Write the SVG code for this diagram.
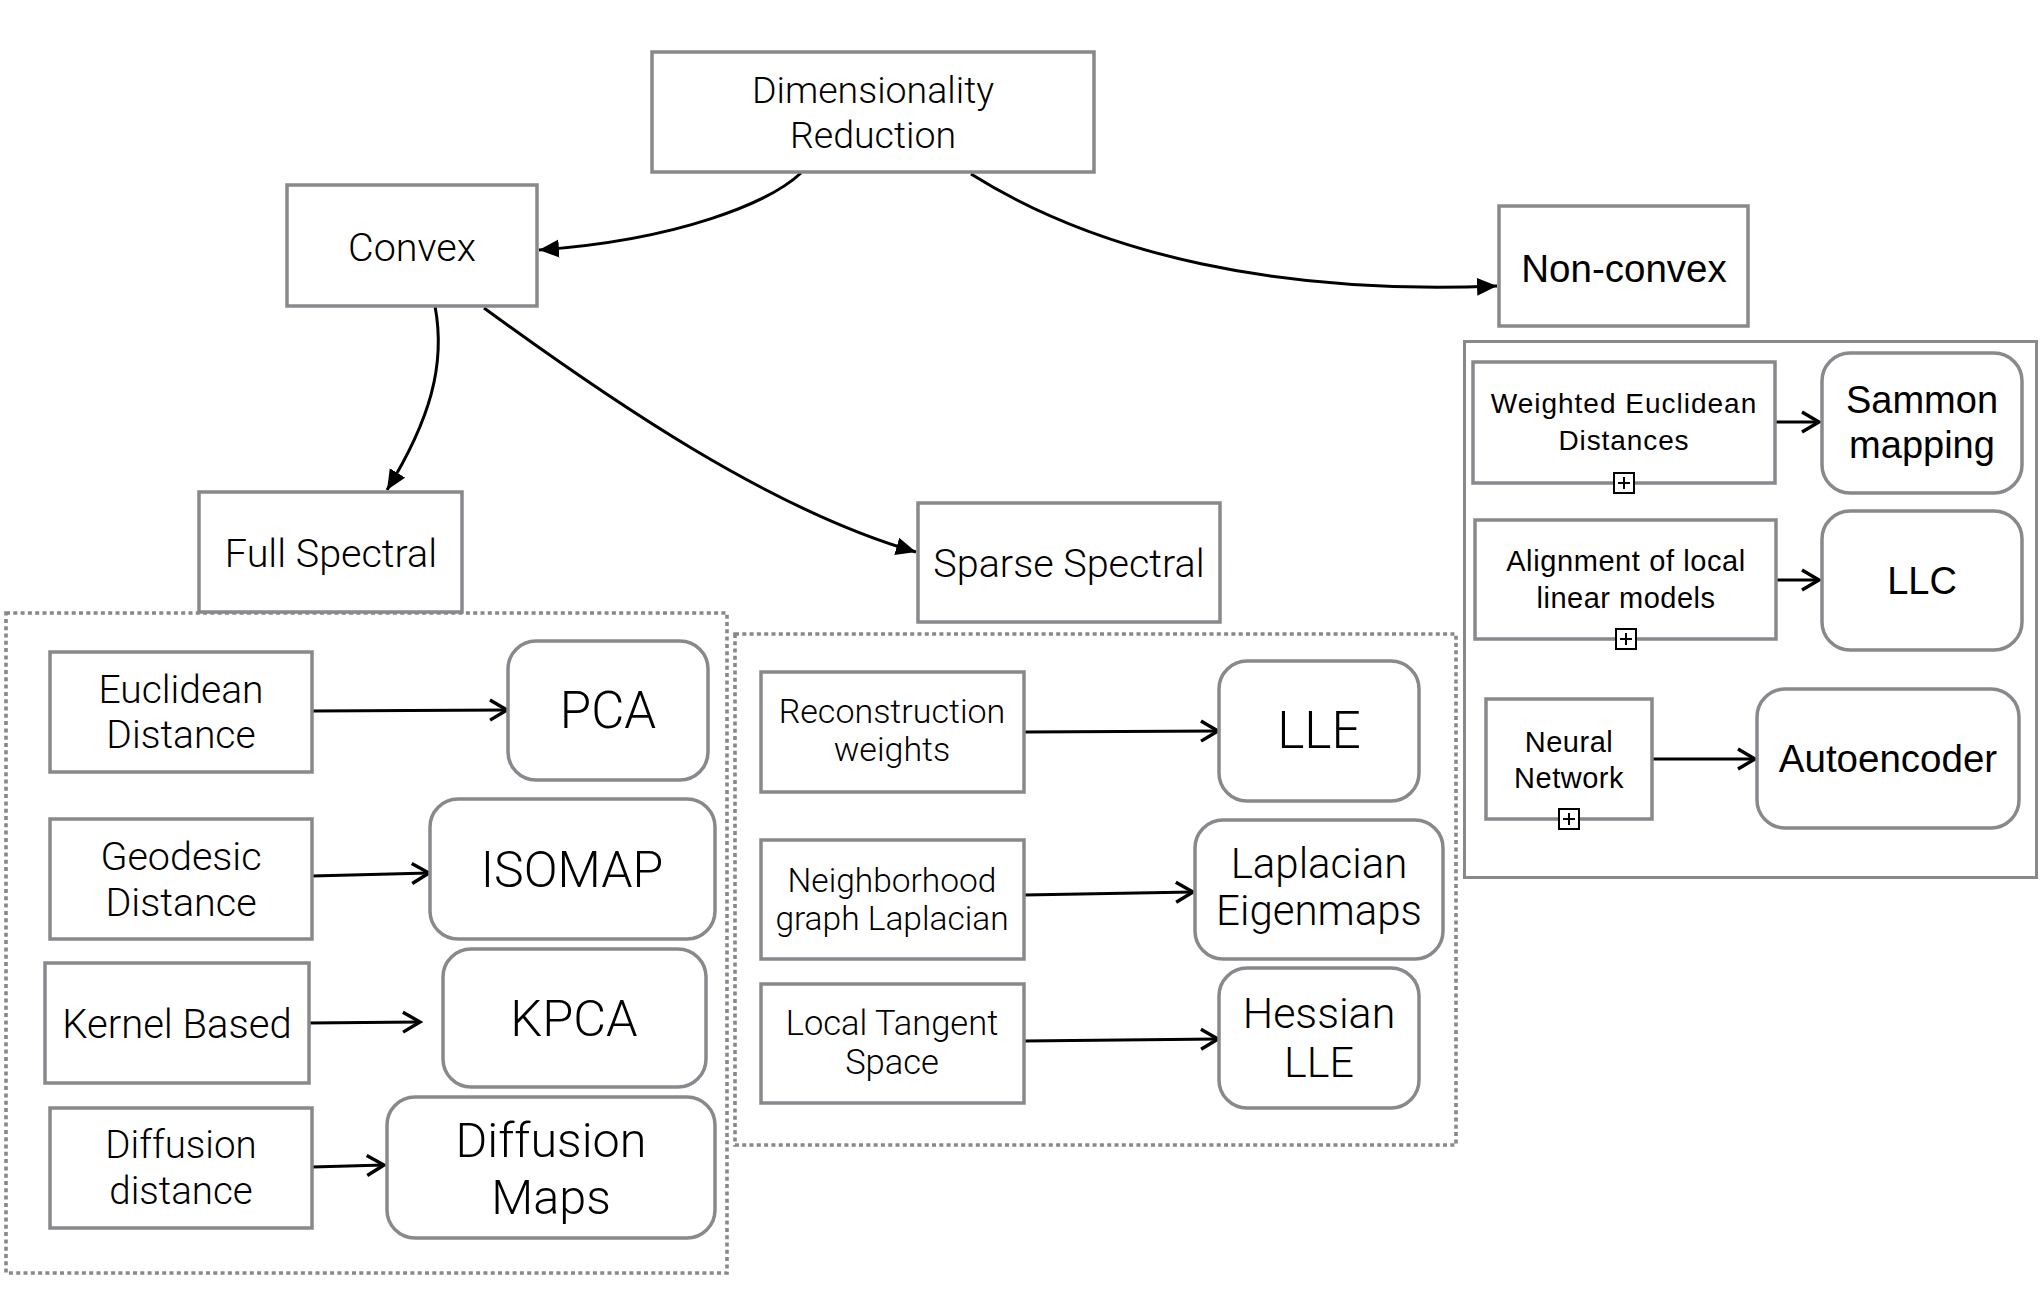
<svg xmlns="http://www.w3.org/2000/svg" width="2042" height="1298" viewBox="0 0 2042 1298">
<style>
  .box{fill:#fff;stroke:#87898c;stroke-width:3.5}
  .rbox{fill:#fff;stroke:#87898c;stroke-width:3.5}
  .dot{fill:none;stroke:#86888b;stroke-width:3.6;stroke-dasharray:4 3.3}
  .grp{fill:none;stroke:#87898c;stroke-width:3}
  .t{font-family:Roboto,"Liberation Sans",sans-serif;font-weight:300;fill:#000;text-anchor:middle}
  .h{font-family:"Liberation Sans",Arial,sans-serif;fill:#000;text-anchor:middle}
  .c{fill:none;stroke:#000;stroke-width:3}
  .plus{fill:#fff;stroke:#000;stroke-width:2}
</style>
<defs>
  <marker id="fa" markerUnits="userSpaceOnUse" markerWidth="22" markerHeight="20" refX="20" refY="9" orient="auto">
    <path d="M0,0 L20,9 L0,18 z" fill="#000"/>
  </marker>
  <marker id="oa" markerUnits="userSpaceOnUse" markerWidth="24" markerHeight="26" refX="19" refY="12" orient="auto">
    <path d="M2,2 L19,12 L2,22" fill="none" stroke="#000" stroke-width="3.4"/>
  </marker>
</defs>

<g id="containers">
  <rect class="dot" x="6" y="613" width="721" height="660"/>
  <rect class="dot" x="735" y="634" width="721" height="511"/>
  <rect class="grp" x="1464.5" y="341.5" width="572" height="536"/>
</g>

<g id="connectors">
  <path class="c" d="M801,173 C770,202 680,240 539,250" marker-end="url(#fa)"/>
  <path class="c" d="M971,174 C1100,255 1280,295 1497,286" marker-end="url(#fa)"/>
  <path class="c" d="M435,306 C446,365 430,420 387,490" marker-end="url(#fa)"/>
  <path class="c" d="M484,308 C610,400 770,510 916,552" marker-end="url(#fa)"/>
  <path class="c" d="M312,711 L507,710" marker-end="url(#oa)"/>
  <path class="c" d="M312,876 L429,873" marker-end="url(#oa)"/>
  <path class="c" d="M309,1023 L420,1022" marker-end="url(#oa)"/>
  <path class="c" d="M312,1167 L384,1165" marker-end="url(#oa)"/>
  <path class="c" d="M1024,732 L1218,731" marker-end="url(#oa)"/>
  <path class="c" d="M1024,895 L1193,892" marker-end="url(#oa)"/>
  <path class="c" d="M1024,1041 L1218,1039" marker-end="url(#oa)"/>
  <path class="c" d="M1775,422 L1819,422" marker-end="url(#oa)"/>
  <path class="c" d="M1776,580 L1819,580" marker-end="url(#oa)"/>
  <path class="c" d="M1652,759 L1755,759" marker-end="url(#oa)"/>
</g>

<g id="dim">
  <rect class="box" x="652" y="52" width="442" height="120"/>
  <text class="t" x="873" y="103" font-size="37.5">Dimensionality</text>
  <text class="t" x="873" y="148" font-size="37.5">Reduction</text>
</g>
<g id="convex">
  <rect class="box" x="287" y="185" width="250" height="121"/>
  <text class="t" x="412" y="261" font-size="39.5">Convex</text>
</g>
<g id="nonconvex">
  <rect class="box" x="1499" y="206" width="249" height="120"/>
  <text class="h" x="1624" y="282" font-size="38.5">Non-convex</text>
</g>
<g id="fullspectral">
  <rect class="box" x="199" y="492" width="263" height="120"/>
  <text class="t" x="331" y="567" font-size="39.5">Full Spectral</text>
</g>
<g id="sparsespectral">
  <rect class="box" x="918" y="503" width="302" height="119"/>
  <text class="t" x="1069" y="577" font-size="39.5">Sparse Spectral</text>
</g>

<g id="euclid">
  <rect class="box" x="50" y="652" width="262" height="120"/>
  <text class="t" x="181" y="703" font-size="39">Euclidean</text>
  <text class="t" x="181" y="748" font-size="39">Distance</text>
</g>
<g id="pca">
  <rect class="rbox" x="508" y="641" width="200" height="139" rx="28"/>
  <text class="t" x="608" y="728" font-size="51">PCA</text>
</g>
<g id="geodesic">
  <rect class="box" x="50" y="819" width="262" height="120"/>
  <text class="t" x="181" y="870" font-size="39.5">Geodesic</text>
  <text class="t" x="181" y="916" font-size="39.5">Distance</text>
</g>
<g id="isomap">
  <rect class="rbox" x="430" y="799" width="285" height="140" rx="28"/>
  <text class="t" x="572" y="887" font-size="50">ISOMAP</text>
</g>
<g id="kernel">
  <rect class="box" x="45" y="963" width="264" height="120"/>
  <text class="t" x="177" y="1038" font-size="40">Kernel Based</text>
</g>
<g id="kpca">
  <rect class="rbox" x="443" y="949" width="263" height="138" rx="28"/>
  <text class="t" x="574" y="1036" font-size="50.5">KPCA</text>
</g>
<g id="diffdist">
  <rect class="box" x="50" y="1108" width="262" height="120"/>
  <text class="t" x="181" y="1158" font-size="38.5">Diffusion</text>
  <text class="t" x="181" y="1204" font-size="38.5">distance</text>
</g>
<g id="diffmaps">
  <rect class="rbox" x="387" y="1097" width="328" height="141" rx="28"/>
  <text class="t" x="551" y="1157" font-size="48.5">Diffusion</text>
  <text class="t" x="551" y="1214" font-size="48.5">Maps</text>
</g>

<g id="recon">
  <rect class="box" x="761" y="672" width="263" height="120"/>
  <text class="t" x="892" y="723" font-size="34">Reconstruction</text>
  <text class="t" x="892" y="761" font-size="34">weights</text>
</g>
<g id="lle">
  <rect class="rbox" x="1219" y="661" width="200" height="140" rx="28"/>
  <text class="t" x="1319" y="748" font-size="51.5">LLE</text>
</g>
<g id="neigh">
  <rect class="box" x="761" y="840" width="263" height="119"/>
  <text class="t" x="892" y="892" font-size="33.5">Neighborhood</text>
  <text class="t" x="892" y="930" font-size="33.5">graph Laplacian</text>
</g>
<g id="laplacian">
  <rect class="rbox" x="1195" y="820" width="248" height="139" rx="28"/>
  <text class="t" x="1319" y="878" font-size="42">Laplacian</text>
  <text class="t" x="1319" y="925" font-size="42">Eigenmaps</text>
</g>
<g id="lts">
  <rect class="box" x="761" y="984" width="263" height="119"/>
  <text class="t" x="892" y="1035" font-size="34.5">Local Tangent</text>
  <text class="t" x="892" y="1074" font-size="34.5">Space</text>
</g>
<g id="hlle">
  <rect class="rbox" x="1219" y="968" width="200" height="140" rx="28"/>
  <text class="t" x="1319" y="1028" font-size="43">Hessian</text>
  <text class="t" x="1319" y="1077" font-size="43">LLE</text>
</g>

<g id="wed">
  <rect class="box" x="1473" y="362" width="302" height="121"/>
  <text class="h" x="1624" y="413" font-size="28" letter-spacing="1">Weighted Euclidean</text>
  <text class="h" x="1624" y="450" font-size="28" letter-spacing="0.9">Distances</text>
  <rect class="plus" x="1614" y="473" width="20" height="20"/>
  <path d="M1618,483 H1630 M1624,477 V489" stroke="#000" stroke-width="2"/>
</g>
<g id="sammon">
  <rect class="rbox" x="1822" y="353" width="200" height="140" rx="28"/>
  <text class="h" x="1922" y="413" font-size="38">Sammon</text>
  <text class="h" x="1922" y="458" font-size="38">mapping</text>
</g>
<g id="align">
  <rect class="box" x="1475" y="520" width="301" height="119"/>
  <text class="h" x="1626" y="571" font-size="29" letter-spacing="0.6">Alignment of local</text>
  <text class="h" x="1626" y="608" font-size="29" letter-spacing="0.5">linear models</text>
  <rect class="plus" x="1616" y="629" width="20" height="20"/>
  <path d="M1620,639 H1632 M1626,633 V645" stroke="#000" stroke-width="2"/>
</g>
<g id="llc">
  <rect class="rbox" x="1822" y="511" width="200" height="139" rx="28"/>
  <text class="h" x="1922" y="594" font-size="38">LLC</text>
</g>
<g id="neural">
  <rect class="box" x="1486" y="699" width="166" height="120"/>
  <text class="h" x="1569" y="752" font-size="29" letter-spacing="0.5">Neural</text>
  <text class="h" x="1569" y="788" font-size="29" letter-spacing="0.5">Network</text>
  <rect class="plus" x="1559" y="809" width="20" height="20"/>
  <path d="M1563,819 H1575 M1569,813 V825" stroke="#000" stroke-width="2"/>
</g>
<g id="autoencoder">
  <rect class="rbox" x="1757" y="689" width="262" height="139" rx="28"/>
  <text class="h" x="1888" y="772" font-size="38.5">Autoencoder</text>
</g>
</svg>
